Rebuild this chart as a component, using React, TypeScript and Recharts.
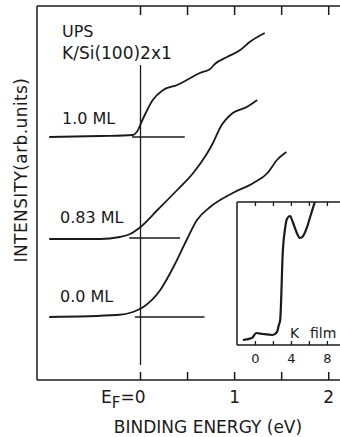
import { LineChart, Line, XAxis, YAxis } from "recharts"

// binding energy (eV) / intensity (arb. units)
const energy10 = [-0.97, -0.43, -0.08, -0.04, 0.03, 0.13, 0.24, 0.39, 0.53, 0.63, 0.74, 0.79, 0.92, 1.06, 1.16, 1.32]
const intensity10 = [24.3, 24.4, 24.5, 24.8, 26.2, 28.0, 29.0, 29.5, 30.2, 30.7, 31.1, 31.6, 32.3, 33.0, 33.8, 34.7]

const energy083 = [-0.97, -0.43, -0.22, -0.11, 0.0, 0.18, 0.39, 0.56, 0.71, 0.77, 0.85, 0.98, 1.13, 1.24]
const intensity083 = [14.1, 14.1, 14.3, 14.6, 15.3, 17.0, 19.0, 20.7, 22.7, 23.7, 25.3, 26.7, 27.3, 28.0]

const energy00 = [-0.97, -0.25, -0.08, 0.03, 0.21, 0.35, 0.49, 0.6, 0.74, 0.98, 1.2, 1.35, 1.45, 1.55]
const intensity00 = [6.3, 6.5, 6.8, 7.3, 9.0, 11.3, 14.0, 16.0, 17.3, 18.7, 19.7, 20.7, 22.0, 22.8]

// horizontal zero marks for each spectrum
const zero10X = [-0.09, 0.47]
const zero10Y = 24.3
const zero083X = [-0.12, 0.42]
const zero083Y = 14.2
const zero00X = [-0.06, 0.68]
const zero00Y = 6.3

// Fermi level marker
const efX = 0
const efY = [1.5, 31.5]

const mainTicks = [0, 0.5, 1, 1.5, 2]
const mainTickLabels = ["E_F=0", "", "1", "", "2"]

// inset: K film
const insetEnergy = [-1.4, -0.4, 0.1, 0.8, 1.9, 2.4, 2.6, 2.75, 3.05, 3.3, 3.5, 3.85, 4.15, 4.6, 4.95, 5.3, 5.7, 6.15, 6.6]
const insetIntensity = [0.5, 0.7, 1.2, 1.1, 1.0, 1.3, 2.0, 2.5, 9.5, 11.7, 12.6, 12.9, 12.3, 11.2, 10.7, 10.9, 11.7, 13.0, 14.3]
const insetTicks = [0, 2, 4, 6, 8]
const insetTickLabels = ["0", "", "4", "", "8"]

const zip = (xs: number[], ys: number[]) => xs.map((x, i) => ({ x, y: ys[i] }))
const flat = (xs: number[], y: number) => xs.map((x) => ({ x, y }))

const ink = "#1a1a1a"
const font = "DejaVu Sans"

function MainBottomTick(props: any) {
  const { x, y, payload } = props
  const label = mainTickLabels[mainTicks.indexOf(payload.value)] ?? ""
  const parts = label.split("_")
  return (
    <g>
      <line x1={x} y1={y} x2={x} y2={y - 8} stroke={ink} strokeWidth={1.5} />
      {parts.length > 1 ? (
        <text x={x + 5} y={y + 23} textAnchor="end" fontFamily={font} fontSize={17} fill={ink}>
          <tspan>{parts[0]}</tspan>
          <tspan dy={5} fontSize={15}>{parts[1][0]}</tspan>
          <tspan dy={-5}>{parts[1].slice(1)}</tspan>
        </text>
      ) : label ? (
        <text x={x} y={y + 23} textAnchor="middle" fontFamily={font} fontSize={17} fill={ink}>
          {label}
        </text>
      ) : null}
    </g>
  )
}

function MainTopTick(props: any) {
  const { x, y } = props
  return <line x1={x} y1={y} x2={x} y2={y + 9} stroke={ink} strokeWidth={1.5} />
}

function InsetBottomTick(props: any) {
  const { x, y, payload } = props
  const label = insetTickLabels[insetTicks.indexOf(payload.value)] ?? ""
  return (
    <g>
      <line x1={x} y1={y} x2={x} y2={y - 4} stroke={ink} strokeWidth={1.3} />
      {label && (
        <text x={x} y={y + 18} textAnchor="middle" fontFamily={font} fontSize={13} fill={ink}>
          {label}
        </text>
      )}
    </g>
  )
}

function InsetTopTick(props: any) {
  const { x, y } = props
  return <line x1={x} y1={y} x2={x} y2={y + 4} stroke={ink} strokeWidth={1.3} />
}

export default function App() {
  const curve = { type: "monotone" as const, dataKey: "y", stroke: ink, strokeWidth: 1.8, dot: false, isAnimationActive: false, xAxisId: "b" }
  const mark = { type: "linear" as const, dataKey: "y", stroke: ink, strokeWidth: 1.3, dot: false, isAnimationActive: false, xAxisId: "b" }

  return (
    <div style={{ position: "fixed", left: 0, top: 0, width: 340, height: 437, background: "#fff", fontFamily: font }}>
      <LineChart width={340} height={437} margin={{ top: 5, right: 0, bottom: 56, left: 36 }}>
        <XAxis
          xAxisId="b"
          type="number"
          dataKey="x"
          orientation="bottom"
          domain={[-1.1, 2.12]}
          ticks={mainTicks}
          allowDataOverflow
          height={1}
          tickSize={0}
          tickMargin={0}
          tickLine={false}
          tick={<MainBottomTick />}
          stroke={ink}
          strokeWidth={1.5}
        />
        <XAxis
          xAxisId="t"
          type="number"
          dataKey="x"
          orientation="top"
          domain={[-1.1, 2.12]}
          ticks={mainTicks}
          allowDataOverflow
          height={1}
          tickSize={0}
          tickMargin={0}
          tickLine={false}
          tick={<MainTopTick />}
          stroke={ink}
          strokeWidth={1.5}
        />
        <YAxis type="number" domain={[0, 37.4]} width={1} tick={false} tickLine={false} stroke={ink} strokeWidth={1.5} allowDataOverflow />

        <Line {...curve} data={zip(energy10, intensity10)} />
        <Line {...curve} data={zip(energy083, intensity083)} />
        <Line {...curve} data={zip(energy00, intensity00)} />
        <Line {...mark} data={flat(zero10X, zero10Y)} />
        <Line {...mark} data={flat(zero083X, zero083Y)} />
        <Line {...mark} data={flat(zero00X, zero00Y)} />
        <Line {...mark} data={efY.map((y) => ({ x: efX, y }))} />

        <text x={62} y={37} fontFamily={font} fontSize={16} fill={ink}>UPS</text>
        <text x={62} y={59} fontFamily={font} fontSize={17} fill={ink}>K/Si(100)2x1</text>
        <text x={62} y={124} fontFamily={font} fontSize={16} fill={ink}>1.0 ML</text>
        <text x={60} y={223} fontFamily={font} fontSize={16} fill={ink}>0.83 ML</text>
        <text x={60} y={302} fontFamily={font} fontSize={16} fill={ink}>0.0 ML</text>
        <text x={208} y={433} textAnchor="middle" fontFamily={font} fontSize={17} fill={ink}>BINDING ENERGY (eV)</text>
        <text x={27} y={170} transform="rotate(-90 27 170)" textAnchor="middle" fontFamily={font} fontSize={17} letterSpacing={0.4} fill={ink}>INTENSITY(arb.units)</text>
      </LineChart>

      <div style={{ position: "absolute", left: 236, top: 201 }}>
        <LineChart width={104} height={166} margin={{ top: 0, right: 0, bottom: 21, left: 0 }}>
          <XAxis
            xAxisId="b"
            type="number"
            dataKey="x"
            orientation="bottom"
            domain={[-2.05, 9.4]}
            ticks={insetTicks}
            allowDataOverflow
            height={1}
            tickSize={0}
            tickMargin={0}
            tickLine={false}
            tick={<InsetBottomTick />}
            stroke={ink}
            strokeWidth={1.5}
          />
          <XAxis
            xAxisId="t"
            type="number"
            dataKey="x"
            orientation="top"
            domain={[-2.05, 9.4]}
            ticks={insetTicks}
            allowDataOverflow
            height={1}
            tickSize={0}
            tickMargin={0}
            tickLine={false}
            tick={<InsetTopTick />}
            stroke={ink}
            strokeWidth={1.5}
          />
          <YAxis type="number" domain={[0, 14.3]} width={1} tick={false} tickLine={false} stroke={ink} strokeWidth={1.5} allowDataOverflow />
          <Line {...curve} strokeWidth={2.2} data={zip(insetEnergy, insetIntensity)} />
          <text x={54} y={137} fontFamily={font} fontSize={14} fill={ink}>K</text>
          <text x={74} y={137} fontFamily={font} fontSize={14} fill={ink}>film</text>
        </LineChart>
      </div>
    </div>
  )
}
